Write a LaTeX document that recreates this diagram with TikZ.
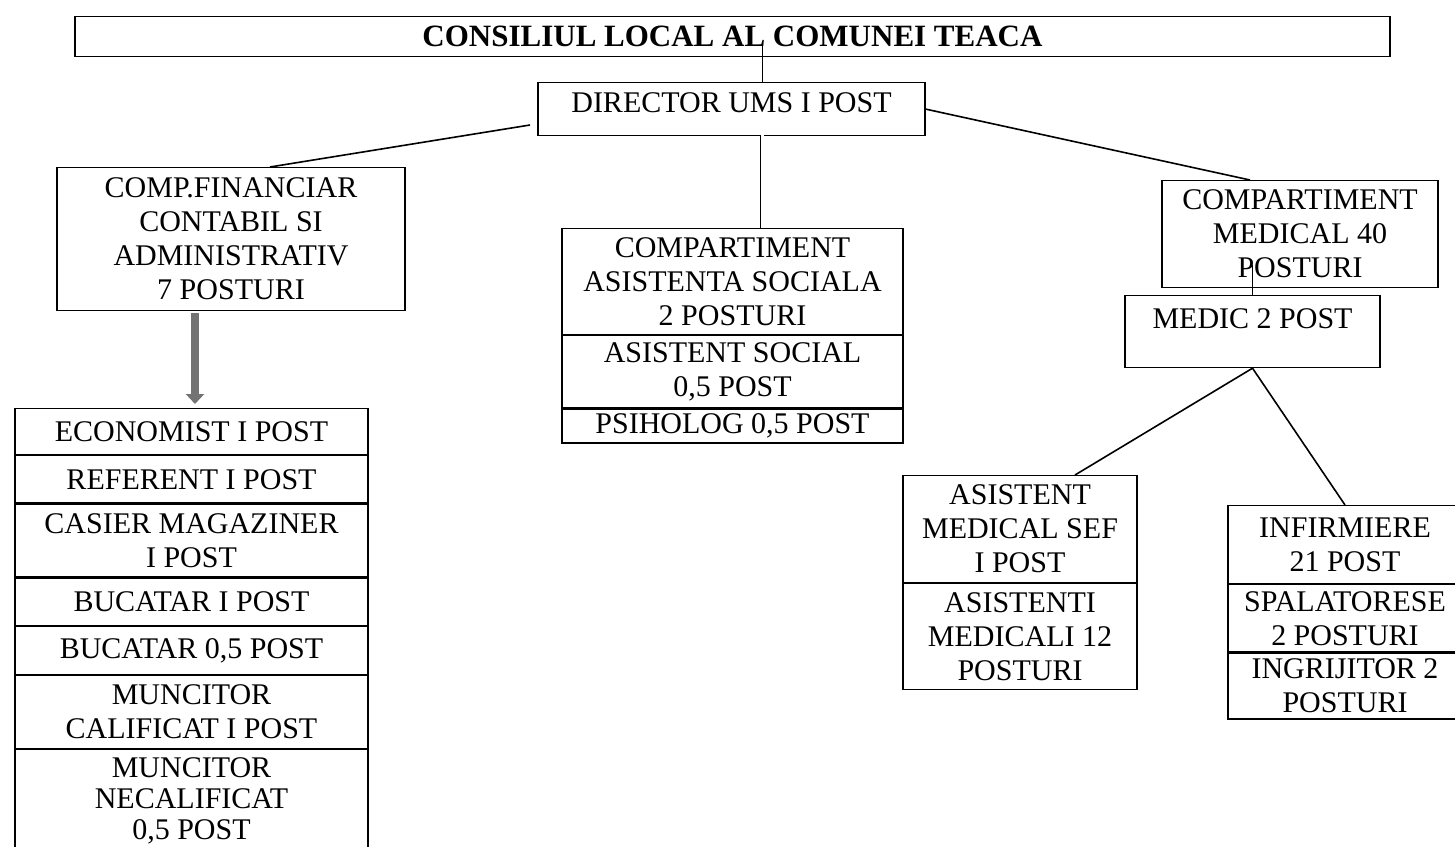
\documentclass[tikz,border=0pt]{standalone}
\usepackage{fontspec}
\setmainfont{Liberation Serif}
\usetikzlibrary{positioning, arrows.meta}

\tikzset{
	cell/.style = {draw, rectangle, anchor=north, align=center, inner xsep=2pt, inner ysep=1pt,
		line width=0.6pt, font=\fontsize{15}{17}\selectfont},
	link/.style = {line width=0.8pt},
	flowarrow/.style = {line width=4pt, draw=black!55, ->, shorten >=2pt},
}

\begin{document}
\begin{tikzpicture}[x=0.5pt, y=-0.5pt, > = {Triangle[width=9pt, length=5pt]}]
	\clip (0,0) rectangle (1455,846);
	
	% consiliul local si directorul
	\node [cell, minimum width=657.5pt, minimum height=20pt,
		font=\fontsize{15.5}{17}\selectfont\bfseries] (title) at (732.5,16) {CONSILIUL LOCAL AL COMUNEI TEACA};
	\node [cell, minimum width=193.5pt, text height=13pt, text depth=9.5pt, inner ysep=2pt]
		(director) at (731.5,82) {DIRECTOR UMS I POST};
	
	\coordinate (titlejoin) at (762,44);
	\coordinate (dirtop) at (762,82);
	\coordinate (dirbot) at (762,135);
	\coordinate (dirleft) at (530,125);
	\coordinate (fintop) at (270,167);
	\coordinate (medtop) at (1250,180);
	
	% compartimentul financiar
	\node [cell, minimum width=174pt, minimum height=71.5pt] (fin) at (231,167)
		{COMP.FINANCIAR\\CONTABIL SI\\ADMINISTRATIV\\7 POSTURI};
	
	\node [cell, minimum width=176.5pt, minimum height=23pt] (ec1) at (191.5,408) {ECONOMIST I POST};
	\node [cell, minimum width=176.5pt, minimum height=23.5pt, below=0pt of ec1] (ec2) {REFERENT I POST};
	\node [cell, minimum width=176.5pt, minimum height=36.5pt, below=0pt of ec2] (ec3) {CASIER MAGAZINER\\I POST};
	\node [cell, minimum width=176.5pt, minimum height=23.5pt, below=0pt of ec3] (ec4) {BUCATAR I POST};
	\node [cell, minimum width=176.5pt, minimum height=24pt, below=0pt of ec4] (ec5) {BUCATAR 0,5 POST};
	\node [cell, minimum width=176.5pt, minimum height=36.5pt, below=0pt of ec5] (ec6) {MUNCITOR\\CALIFICAT I POST};
	\node [cell, minimum width=176.5pt, minimum height=51pt, below=0pt of ec6,
		font=\fontsize{15}{15.5}\selectfont] (ec7) {MUNCITOR\\NECALIFICAT\\0,5 POST};
	
	\coordinate (arrtop) at (195,313);
	\draw [flowarrow] (arrtop) -- (arrtop |- ec1.north);
	
	% asistenta sociala
	\node [cell, minimum width=170.5pt, minimum height=53pt] (soc1) at (732.5,228)
		{COMPARTIMENT\\ASISTENTA SOCIALA\\2 POSTURI};
	\node [cell, minimum width=170.5pt, minimum height=36pt, below=0pt of soc1] (soc2) {ASISTENT SOCIAL\\0,5 POST};
	\node [cell, minimum width=170.5pt, minimum height=17pt, below=0pt of soc2] (soc3) {PSIHOLOG 0,5 POST};
	
	% compartimentul medical
	\node [cell, minimum width=138pt, minimum height=53.5pt] (medical) at (1300,180)
		{COMPARTIMENT\\MEDICAL 40\\POSTURI};
	\node [cell, minimum width=127.5pt, text height=14.5pt, text depth=17.5pt, inner ysep=2pt]
		(medic) at (1252.5,295) {MEDIC 2 POST};
	
	\node [cell, minimum width=117pt, minimum height=53.5pt] (as1) at (1020,475) {ASISTENT\\MEDICAL SEF\\I POST};
	\node [cell, minimum width=117pt, minimum height=53pt, below=0pt of as1] (as2) {ASISTENTI\\MEDICALI 12\\POSTURI};
	
	\node [cell, minimum width=117pt, minimum height=39pt] (in1) at (1345,505) {INFIRMIERE\\21 POST};
	\node [cell, minimum width=117pt, minimum height=33.5pt, below=0pt of in1] (in2) {SPALATORESE\\2 POSTURI};
	\node [cell, minimum width=117pt, minimum height=33pt, below=0pt of in2] (in3) {INGRIJITOR 2\\POSTURI};
	
	\coordinate (astop) at (1075,475);
	
	% legaturi
	\draw [line width=0.5pt] (dirtop) -- (titlejoin);
	\draw [link] (dirleft) -- (fintop);
	\draw [link] (director.east) -- (medtop);
	\draw [double, double distance=1.5pt, line width=0.4pt] (dirbot) -- (dirbot |- soc1.north);
	\draw [line width=0.5pt] (medic.north) -- ++(0,-30);
	\draw [link] (medic.south) -- (astop);
	\draw [link] (medic.south) -- (in1.north);
\end{tikzpicture}
\end{document}
